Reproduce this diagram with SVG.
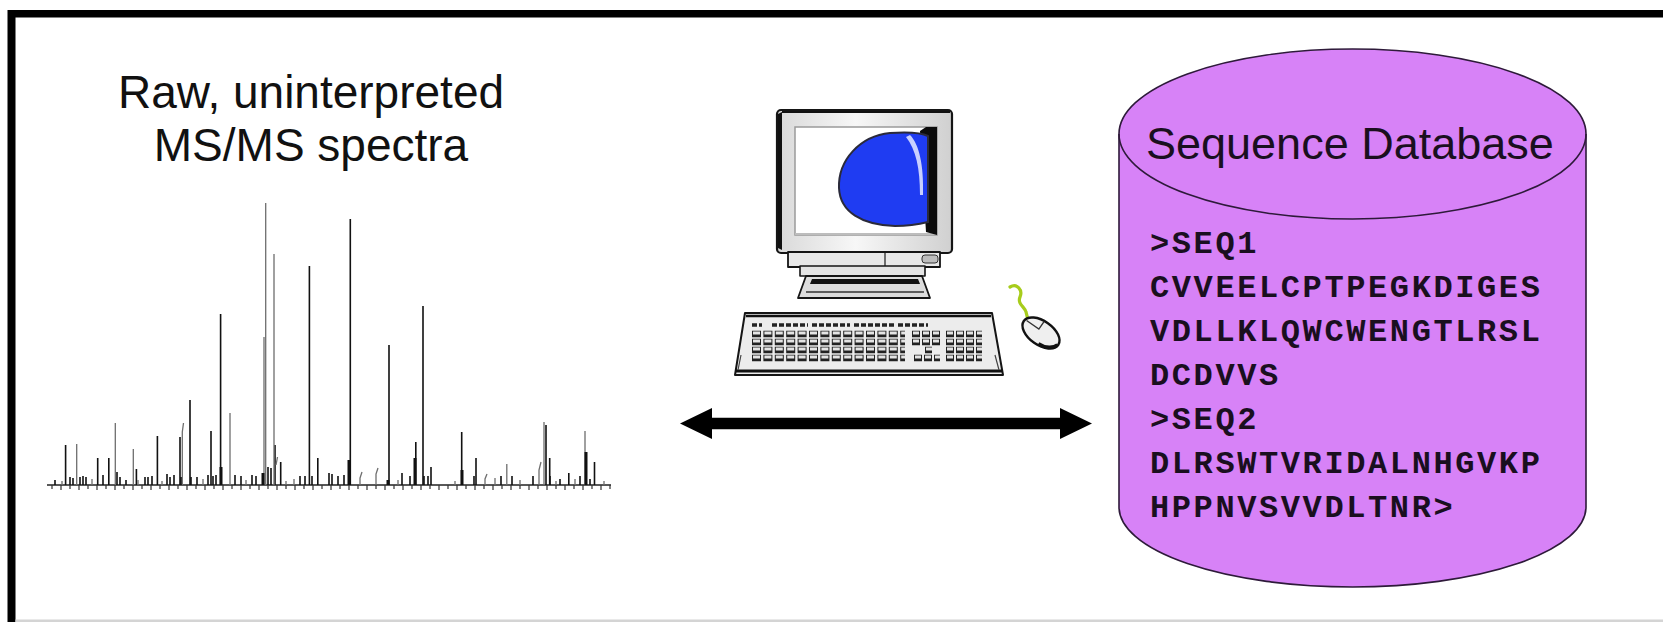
<svg xmlns="http://www.w3.org/2000/svg" width="1663" height="622" viewBox="0 0 1663 622">
  <style>
    .title { font-family: "Liberation Sans", Arial, sans-serif; font-size: 46px; fill: #111; }
    .dbtitle { font-family: "Liberation Sans", Arial, sans-serif; font-size: 45px; fill: #1a0f1f; }
    .seq { font-family: "Liberation Mono", "Courier New", monospace; font-weight: bold; font-size: 32px; letter-spacing: 2.6px; fill: #1a0f1f; }
    .pk { stroke: #111; stroke-width: 1.6; fill: none; }
    .pkg { stroke: #6e6e6e; stroke-width: 1.3; fill: none; }
    .pkt { stroke: #111; stroke-width: 3; fill: none; }
    .ink { stroke: #151515; stroke-linejoin: round; }
  </style>
  <defs>
    <linearGradient id="bezel" x1="0" y1="0" x2="1" y2="0">
      <stop offset="0" stop-color="#d9d9d9"/>
      <stop offset="0.45" stop-color="#f7f7f7"/>
      <stop offset="1" stop-color="#d0d0d0"/>
    </linearGradient>
    <marker id="head" viewBox="0 0 32 31" refX="1" refY="15.5" markerWidth="32" markerHeight="31" markerUnits="userSpaceOnUse" orient="auto-start-reverse">
      <path d="M0,0 L32,15.5 L0,31 Z" fill="#000"/>
    </marker>
  </defs>

  <rect width="1663" height="622" fill="#fff"/>

  <!-- slide frame -->
  <g id="frame">
    <rect x="8" y="10" width="1655" height="7.5" fill="#000"/>
    <rect x="7.5" y="10" width="8" height="612" fill="#000"/>
    <rect x="15.5" y="619.5" width="1648" height="2.5" fill="#d4d4d4"/>
  </g>

  <!-- spectrum caption and peaks -->
  <g id="spectrum">
    <text class="title" x="311" y="108" text-anchor="middle">Raw, uninterpreted</text>
    <text class="title" x="311" y="161" text-anchor="middle">MS/MS spectra</text>

    <!-- axis -->
    <line x1="47" y1="485" x2="611" y2="485" stroke="#222" stroke-width="1.6"/>
    <path stroke="#333" stroke-width="1.2" d="M52,485v4 M61,485v5 M70,485v4 M79,485v5 M88,485v4 M97,485v5 M106,485v4 M115,485v5 M124,485v4 M133,485v5 M142,485v4 M151,485v5 M160,485v4 M169,485v5 M178,485v4 M187,485v5 M196,485v4 M205,485v5 M214,485v4 M223,485v5 M232,485v4 M241,485v5 M250,485v4 M259,485v5 M268,485v4 M277,485v5 M286,485v4 M295,485v5 M304,485v4 M313,485v5 M322,485v4 M331,485v5 M340,485v4 M349,485v5 M358,485v4 M367,485v5 M376,485v4 M385,485v5 M394,485v4 M403,485v5 M412,485v4 M421,485v5 M430,485v4 M439,485v5 M448,485v4 M457,485v5 M466,485v4 M475,485v5 M484,485v4 M493,485v5 M502,485v4 M511,485v5 M520,485v4 M529,485v5 M538,485v4 M547,485v5 M556,485v4 M565,485v5 M574,485v4 M583,485v5 M592,485v4 M601,485v5 M610,485v4"/>

    <!-- major black peaks -->
    <path class="pk" d="M65.6,485V445 M97.7,485V458 M108.8,485V458 M136.4,485V469 M157.4,485V436 M180,485V437 M190,485V400 M211,485V431 M220.6,485V314 M275,485V445 M280.7,485V462 M309.4,485V266 M317.8,485V458 M350.3,485V219 M389,485V345 M402,485V473 M415.8,485V442 M423,485V306 M431,485V467 M461.7,485V432 M476,485V458 M546,485V425 M549.7,485V458 M568.8,485V473 M594.5,485V462"/>
    <!-- grey peaks -->
    <path class="pkg" d="M76.7,485V444 M115.3,485V423 M133.3,485V449 M182.3,485V432 L183.5,423 M230,485V413 M264,485V337 M265.7,485V203 M274,485V254 M506.8,485V464 M544,485V422 M585,485V431 M276,465l1.5,-8"/>
    <!-- heavy stubs -->
    <path class="pkt" d="M221,485V467 M263,485V473 M349,485V460 M415,485V458 M462,485V470 M586,485V452 M388,485V480"/>
    <!-- low clutter -->
    <path class="pk" stroke-width="1.3" d="M55,485V480 M70,485V477 M73,485V478 M80,485V477 M83,485V476 M86,485V477 M103,485V475 M117,485V472 M120,485V477 M126,485V480 M145,485V477 M148,485V477 M152,485V476 M167,485V474 M170,485V477 M174,485V475 M181,485V477 M191,485V477 M197,485V477 M208,485V475 M213,485V476 M216,485V475 M235,485V475 M241,485V476 M252,485V475 M256,485V476 M268,485V467 M271,485V468 M300,485V476 M305,485V476 M312,485V476 M329,485V473 M332,485V474 M338,485V476 M344,485V475 M410,485V476 M424,485V476 M428,485V476 M474,485V476 M501,485V476 M512,485V476 M533,485V476 M550,485V476 M560,485V479 M580,485V476 M590,485V479"/>
    <path class="pkg" d="M62,485V481 M92,485V479 M138,485V480 M162,485V481 M203,485V479 M246,485V480 M286,485V481 M294,485V479 M360,485V478 l2,-6 M376,485V474 l2,-6 M398,485V480 M455,485V481 M485,485V479 l2,-5 M495,485V478 M520,485V480 M539,485V470 l2,-8 M556,485V481 M575,485V479 M604,485V481"/>
  </g>

  <!-- computer -->
  <g id="computer">
    <!-- monitor case -->
    <rect x="777" y="110" width="175" height="143" rx="4" fill="url(#bezel)" class="ink" stroke-width="2.2"/>
    <path d="M778,114 L782,112 L782,250 L778,248 Z" fill="#111"/>
    <path d="M782,112 L950,112" stroke="#111" stroke-width="2"/>
    <!-- screen -->
    <rect x="795" y="127" width="142" height="108" fill="#fff" stroke="#9a9a9a" stroke-width="1.5"/>
    <path d="M795,233 L937,233 L937,235 L795,235 Z" fill="#bdbdbd"/>
    <path d="M920,131 L926,127 L937,127 L937,235 L926,232 Z" fill="#0c0c0c"/>
    <path d="M928,136 C920,132 905,132 890,133 C860,136 838,160 839,188 C840,212 862,225 895,226 C910,226 920,224 928,222 Z" fill="#1f3cf2" stroke="#2a2a3a" stroke-width="2"/>
    <path d="M910,135 C919,144 924,165 923,195 L920,195 C920,168 916,150 906,137 Z" fill="#c8d0ff"/>
    <!-- lower front strip -->
    <rect x="788" y="252" width="152" height="15" fill="#e8e8e8" class="ink" stroke-width="1.8"/>
    <line x1="885" y1="253" x2="885" y2="266" stroke="#444" stroke-width="1.5"/>
    <rect x="922" y="255" width="16" height="8" rx="3" fill="#bdbdbd" stroke="#333" stroke-width="1"/>
    <!-- neck and foot -->
    <rect x="800" y="266" width="125" height="10" fill="#e4e4e4" class="ink" stroke-width="1.6"/>
    <path d="M806,276 L922,276 L930,298 L798,298 Z" fill="#dcdcdc" class="ink" stroke-width="1.8"/>
    <path d="M812,279 L918,279 L920,284 L810,284 Z" fill="#111"/>
    <line x1="806" y1="292" x2="924" y2="292" stroke="#333" stroke-width="1.5"/>

    <!-- keyboard -->
    <path d="M745,313 L992,313 L1003,375 L735,375 Z" fill="#ececec" class="ink" stroke-width="2"/>
    <path d="M746,316 L991,316" stroke="#111" stroke-width="2.5"/>
    <path d="M736,371 L1002,371" stroke="#111" stroke-width="3"/>
    <path d="M741,355 L738,370 M995,355 L999,370" stroke="#444" stroke-width="1.2"/>
    <!-- key rows -->
    <g fill="none">
      <path d="M752,325 H762 M772,325 H808 M812,325 H850 M854,325 H894 M898,325 H928" stroke="#222" stroke-width="3.5" stroke-dasharray="5 2"/>
      <path d="M752,334 H905 M752,342 H905 M752,350 H905 M752,358 H905" stroke="#222" stroke-width="6.5" stroke-dasharray="9 2.4"/>
      <path d="M752,333 H905 M752,341 H905 M752,349 H905 M752,357 H905" stroke="#e4e4e4" stroke-width="3.2" stroke-dasharray="7 4.4" stroke-dashoffset="-1"/>
      <path d="M912,334 H940 M912,342 H940 M925,350 H932 M914,358 H940" stroke="#222" stroke-width="6.5" stroke-dasharray="8 2"/>
      <path d="M912,333 H940 M912,341 H940 M925,349 H932 M914,357 H940" stroke="#e4e4e4" stroke-width="3" stroke-dasharray="6 4" stroke-dashoffset="-1"/>
      <path d="M946,334 H982 M946,342 H982 M946,350 H982 M946,358 H982" stroke="#222" stroke-width="6.5" stroke-dasharray="8 2"/>
      <path d="M946,333 H982 M946,341 H982 M946,349 H982 M946,357 H982" stroke="#e4e4e4" stroke-width="3" stroke-dasharray="6 4" stroke-dashoffset="-1"/>
    </g>

    <!-- mouse and cord -->
    <path d="M1010,287 C1017,283 1023,290 1020,297 C1017,304 1025,307 1026,312 L1028,320" fill="none" stroke="#a7cc1c" stroke-width="3.2" stroke-linecap="round"/>
    <g transform="translate(1041,333) rotate(35)">
      <ellipse cx="0" cy="0" rx="21" ry="12" fill="#efefef" stroke="#111" stroke-width="2.4"/>
      <path d="M-19,-2 L-4,-2 L-4,-11" fill="none" stroke="#333" stroke-width="1.4"/>
      <path d="M4,10 C12,10 19,5 20,0" fill="none" stroke="#111" stroke-width="3"/>
    </g>
  </g>

  <!-- two-way exchange arrow -->
  <g id="connectors">
    <line x1="711" y1="423.5" x2="1061" y2="423.5" stroke="#000" stroke-width="11.5" marker-start="url(#head)" marker-end="url(#head)"/>
  </g>

  <!-- sequence database cylinder -->
  <g id="database">
    <path d="M1119,134 A233.5,85 0 0 1 1586,134 L1586,507 A233.5,80 0 0 1 1119,507 Z" fill="#d782f7" stroke="#2e1a3a" stroke-width="1.6"/>
    <path d="M1119,134 A233.5,85 0 0 0 1586,134" fill="none" stroke="#2e1a3a" stroke-width="1.6"/>
    <text class="dbtitle" x="1146" y="159">Sequence Database</text>
    <text class="seq" x="1150" y="253">&gt;SEQ1</text>
    <text class="seq" x="1150" y="297">CVVEELCPTPEGKDIGES</text>
    <text class="seq" x="1150" y="341">VDLLKLQWCWENGTLRSL</text>
    <text class="seq" x="1150" y="385">DCDVVS</text>
    <text class="seq" x="1150" y="429">&gt;SEQ2</text>
    <text class="seq" x="1150" y="473">DLRSWTVRIDALNHGVKP</text>
    <text class="seq" x="1150" y="517">HPPNVSVVDLTNR&gt;</text>
  </g>
</svg>
